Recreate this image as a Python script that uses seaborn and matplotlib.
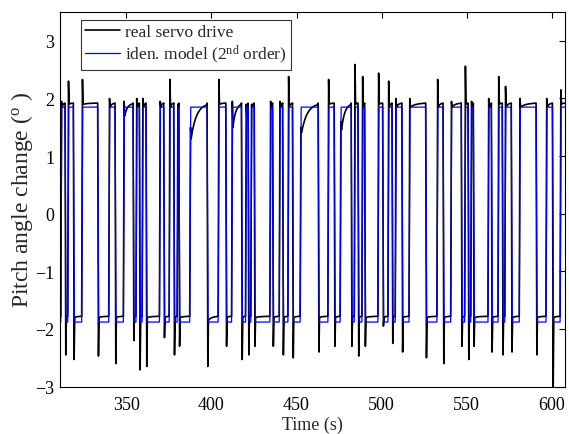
import numpy as np
import pandas as pd
import matplotlib
matplotlib.use("Agg")
import matplotlib.pyplot as plt
import seaborn as sns

# Switching instants of the pitch command (s); the command starts low
switch_times = [
    311.4, 313.9, 315.5, 318.8, 323.7, 333.1, 339.6, 343.3, 348.2, 353.9,
    355.6, 357.6, 359.2, 361.5, 369.4, 371.9, 375.1, 377.8, 379.8, 380.8,
    387.2, 397.4, 403.9, 408.4, 411.8, 417.6, 420.0, 421.5, 423.1, 425.1,
    434.3, 435.9, 439.8, 441.8, 444.9, 447.6, 452.1, 462.7, 468.4, 472.1,
    475.6, 482.1, 483.9, 486.1, 488.4, 490.0, 497.8, 500.6, 503.7, 506.1,
    508.0, 511.9, 516.1, 525.9, 532.5, 536.1, 540.6, 546.8, 548.8, 550.8,
    552.4, 553.9, 562.5, 564.5, 568.4, 570.9, 572.4, 576.2, 580.9, 590.8,
    596.6, 600.4, 604.9,
]

# Peak of the measured response right after each switch (deg)
real_peaks = [
    1.95, -2.45, 2.30, -2.53, 2.33, -2.47, 2.00, -2.60, 1.95, -2.20,
    2.00, -2.71, 2.00, -2.65, 1.95, -2.15, 2.33, -2.45, 1.90, -2.30,
    1.50, -2.65, 2.33, -2.30, 1.95, -2.53, 1.90, -2.45, 1.90, -2.30,
    1.95, -2.30, 1.95, -2.45, 2.38, -2.50, 1.50, -2.40, 2.33, -2.30,
    1.60, -2.30, 2.59, -2.47, 2.38, -2.30, 2.44, -1.95, 2.30, -2.25,
    2.00, -2.40, 2.00, -2.50, 2.33, -2.60, 1.95, -2.30, 2.56, -2.53,
    1.95, -2.30, 2.00, -2.40, 2.38, -2.45, 2.21, -2.40, 2.00, -2.45,
    2.00, -3.05, 2.15,
]

# Level the measured response drops back to after the peak (deg)
real_after = [
    1.85, -1.80, 1.90, -1.80, 1.90, -1.80, 1.85, -1.80, 1.70, -1.80,
    1.85, -1.80, 1.85, -1.80, 1.85, -1.80, 1.85, -1.80, 1.85, -1.80,
    1.30, -1.85, 1.90, -1.80, 1.50, -1.80, 1.65, -1.80, 1.85, -1.80,
    1.85, -1.80, 1.85, -1.80, 1.85, -1.80, 1.40, -1.80, 1.90, -1.80,
    1.45, -1.80, 1.90, -1.80, 1.85, -1.80, 1.90, -1.80, 1.85, -1.80,
    1.85, -1.80, 1.85, -1.80, 1.85, -1.80, 1.85, -1.80, 1.90, -1.80,
    1.85, -1.80, 1.85, -1.80, 1.90, -1.80, 1.85, -1.80, 1.85, -1.80,
    1.85, -1.80, 1.90,
]

model_levels = [-1.88, 1.85]   # low / high plateau of the identified model
real_levels = [-1.78, 1.92]    # low / high plateau of the servo drive
t_start, t_end = 310.8, 607.8


def model_trace():
    t, y = [t_start], [model_levels[0]]
    for i, ts in enumerate(switch_times):
        prev = model_levels[i % 2]
        new = model_levels[(i + 1) % 2]
        t += [ts, ts + 0.6]
        y += [prev, new]
    t.append(t_end)
    y.append(model_levels[len(switch_times) % 2])
    return t, y


def real_trace():
    t, y = [t_start], [real_levels[0]]
    bounds = switch_times + [t_end]
    for i, ts in enumerate(switch_times):
        prev = real_levels[i % 2]
        settle = real_levels[(i + 1) % 2]
        t_next = bounds[i + 1]
        t += [ts, ts + 0.45, ts + 0.8]
        y += [prev, real_peaks[i], real_after[i]]
        span = t_next - (ts + 0.8)
        for f in np.linspace(0.1, 1.0, 10):
            t.append(ts + 0.8 + f * span)
            y.append(settle + (real_after[i] - settle) * np.exp(-3.0 * f))
    return t, y


tm, ym = model_trace()
tr, yr = real_trace()
df_model = pd.DataFrame({"Time": tm, "Pitch": ym})
df_real = pd.DataFrame({"Time": tr, "Pitch": yr})

sns.set_theme(style="white")
plt.rcParams["font.family"] = ["Liberation Serif", "DejaVu Serif"]
plt.rcParams["mathtext.fontset"] = "custom"
plt.rcParams["mathtext.rm"] = "Liberation Serif"
plt.rcParams["mathtext.it"] = "Liberation Serif:italic"

fig = plt.figure(figsize=(5.69, 4.35), dpi=100)
ax = fig.add_axes([0.105, 0.109, 0.888, 0.861])

sns.lineplot(data=df_real, x="Time", y="Pitch", ax=ax, color="black",
             lw=1.2, estimator=None, sort=False, label="real servo drive")
sns.lineplot(data=df_model, x="Time", y="Pitch", ax=ax, color="#0000ff",
             lw=0.9, estimator=None, sort=False,
             label=r"iden. model (2$^{\rm nd}$ order)")

ax.set_xlim(t_start, t_end)
ax.set_ylim(-3, 3.5)
ax.set_xticks([350, 400, 450, 500, 550, 600])
ax.set_yticks([-3, -2, -1, 0, 1, 2, 3])
ax.set_xlabel("Time (s)", fontsize=13, labelpad=2)
ax.set_ylabel(r"Pitch angle change ($^{\rm o}$ )", fontsize=17, labelpad=0)
ax.tick_params(direction="in", top=True, right=True, length=4, width=0.8,
               labelsize=13, colors="black")
ax.tick_params(axis="x", pad=7)
ax.tick_params(axis="y", pad=4)
for s in ax.spines.values():
    s.set_color("black")
    s.set_linewidth(0.8)

leg = ax.legend(loc="upper left", bbox_to_anchor=(0.0416, 0.979),
                borderaxespad=0, fontsize=12.5, frameon=True, fancybox=False,
                edgecolor="black", handlelength=2.0, handletextpad=0.3,
                labelspacing=0.15, borderpad=0.25)
leg.get_frame().set_linewidth(0.8)

fig.savefig("out.png", dpi=100)
